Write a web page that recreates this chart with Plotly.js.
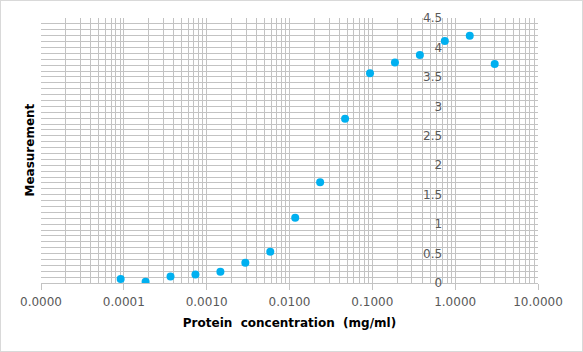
<!DOCTYPE html>
<html>
<head>
<meta charset="utf-8">
<script src="https://cdn.plot.ly/plotly-3.0.1.min.js"></script>
<style>
html,body{margin:0;padding:0;background:#fff;}
#wrap{width:581px;height:350px;border:1px solid #d9d9d9;}
#chart{width:581px;height:350px;}
</style>
</head>
<body>
<div id="wrap"><div id="chart"></div></div>
<script>
// Protein concentration (mg/ml), two-fold serial dilution
const concentration = [0.00009155, 0.0001831, 0.0003662, 0.0007324, 0.001465, 0.00293, 0.00586, 0.01172,
                       0.02344, 0.04688, 0.09375, 0.1875, 0.375, 0.75, 1.5, 3];
const measurement = [0.07, 0.02, 0.11, 0.145, 0.19, 0.345, 0.53, 1.11,
                     1.71, 2.79, 3.56, 3.745, 3.87, 4.11, 4.20, 3.72];
const xTickVals = [0.00001, 0.0001, 0.001, 0.01, 0.1, 1, 10];
const xTickText = ['0.0000', '0.0001', '0.0010', '0.0100', '0.1000', '1.0000', '10.0000'];
const yTickVals = [0, 0.5, 1, 1.5, 2, 2.5, 3, 3.5, 4, 4.5];
const yTickText = ['0', '0.5', '1', '1.5', '2', '2.5', '3', '3.5', '4', '4.5'];

const grid = '#c3c3c3';
const font = 'DejaVu Sans, Verdana, sans-serif';

const trace = {
  x: concentration, y: measurement, type: 'scatter', mode: 'markers',
  marker: {color: '#00b0f0', size: 8}, hoverinfo: 'x+y'
};

const layout = {
  width: 581, height: 350,
  margin: {l: 40, r: 44, t: 17, b: 68},
  paper_bgcolor: '#ffffff', plot_bgcolor: '#ffffff',
  showlegend: false,
  font: {family: font, size: 12, color: '#595959'},
  xaxis: {
    type: 'log', range: [-5, 1],
    tickvals: xTickVals, ticktext: xTickText,
    showgrid: true, gridcolor: grid, gridwidth: 1,
    minor: {dtick: 'D1', showgrid: true, gridcolor: grid, gridwidth: 1, ticks: ''},
    showline: true, linecolor: grid, linewidth: 1,
    ticks: 'outside', ticklen: 6, tickcolor: grid,
    ticklabelstandoff: 2,
    tickfont: {family: font, size: 12, color: '#595959'},
    zeroline: false,
    title: {text: '<b>Protein  concentration  (mg/ml)</b>', font: {family: font, size: 12, color: '#000000'}, standoff: 10}
  },
  yaxis: {
    range: [0, 4.5], anchor: 'free', position: 5/6, side: 'left',
    tickvals: yTickVals, ticktext: yTickText,
    showgrid: true, gridcolor: grid, gridwidth: 1,
    minor: {dtick: 0.1, showgrid: true, gridcolor: grid, gridwidth: 1, ticks: ''},
    showline: false, ticks: '', zeroline: false,
    ticklabelstandoff: 13,
    tickfont: {family: font, size: 12, color: '#595959'}
  },
  annotations: [{
    text: '<b>Measurement</b>', xref: 'paper', yref: 'paper', x: 0, y: 0.5,
    xshift: -12, xanchor: 'center', yanchor: 'middle', textangle: -90, showarrow: false,
    font: {family: font, size: 12, color: '#000000'}
  }]
};

Plotly.newPlot('chart', [trace], layout, {displayModeBar: false, staticPlot: true});
</script>
</body>
</html>
